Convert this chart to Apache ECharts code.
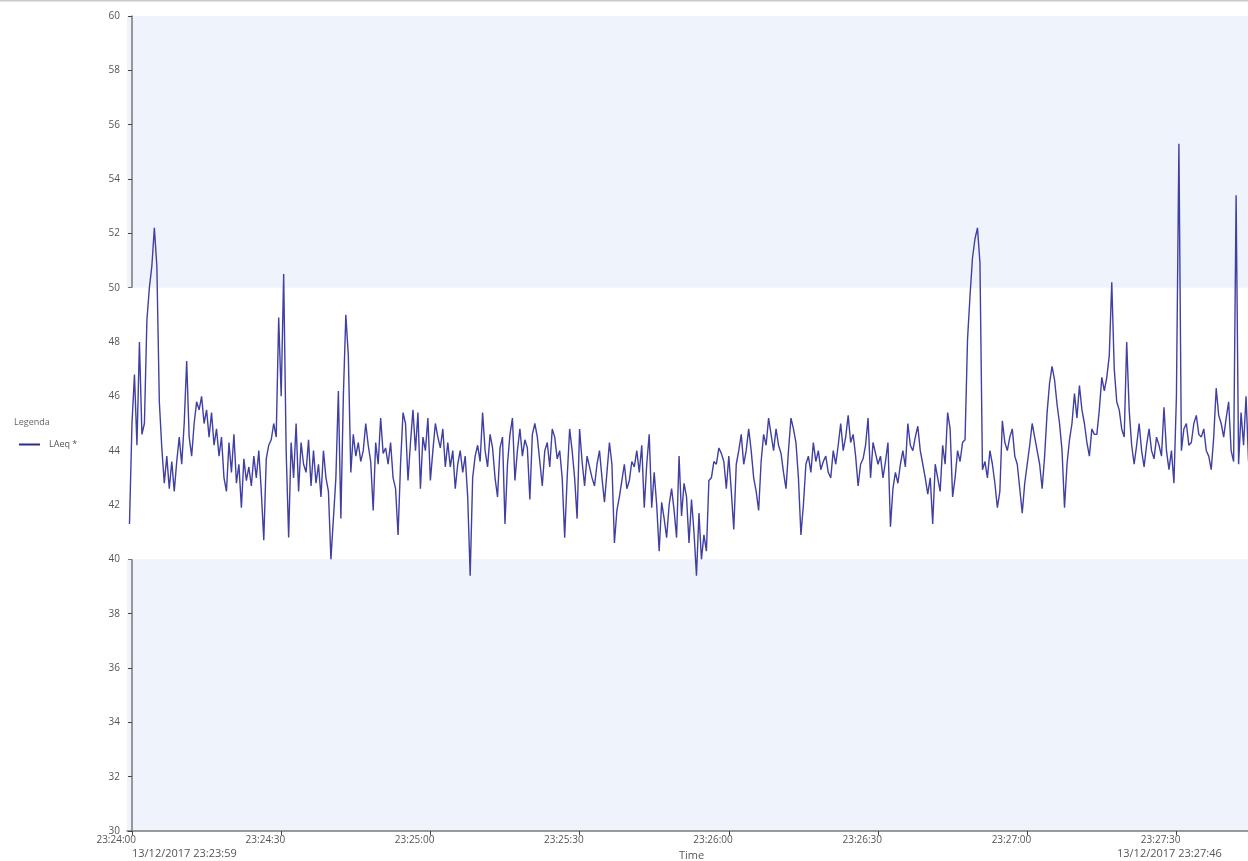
<!DOCTYPE html>
<html>
<head>
<meta charset="utf-8">
<script src="https://cdn.jsdelivr.net/npm/echarts@6/dist/echarts.min.js"></script>
<style>html,body{margin:0;padding:0;background:#fff}#c{width:1248px;height:861px}</style>
</head>
<body>
<div id="c"></div>
<script>
// LAeq samples every 0.5 s, first sample at 23:23:59.5 (seconds relative to 23:24:00)
const startSec = -0.5;
const stepSec = 0.5;
const laeq = [
41.3,45.0,46.8,44.2,48.0,44.6,45.0,48.8,50.0,50.8,
52.2,50.8,45.8,44.1,42.8,43.8,42.6,43.6,42.5,43.6,
44.5,43.5,45.0,47.3,44.5,43.8,45.0,45.8,45.5,46.0,
45.0,45.5,44.5,45.4,44.2,44.8,43.8,44.5,43.0,42.5,
44.3,43.2,44.6,42.8,43.5,41.9,43.7,42.9,43.4,42.7,
43.8,43.0,44.0,42.5,40.7,43.7,44.2,44.4,45.0,44.5,
48.9,46.0,50.5,44.0,40.8,44.3,43.0,45.0,42.5,44.3,
43.5,43.2,44.4,42.7,44.0,42.8,43.5,42.3,44.0,43.0,
42.5,40.0,41.5,43.0,46.2,41.5,46.0,49.0,47.5,43.2,
44.6,43.8,44.3,43.6,44.0,45.0,44.2,43.6,41.8,44.3,
43.5,45.2,43.9,44.1,43.5,44.3,43.0,42.6,40.9,43.5,
45.4,45.0,42.9,44.3,45.5,44.0,45.4,42.6,44.5,44.0,
45.2,42.9,44.0,45.0,44.5,44.1,44.8,43.4,44.3,43.4,
44.0,42.6,43.5,44.0,43.2,43.8,42.3,39.4,43.0,43.8,
44.2,43.6,45.4,44.0,43.4,44.6,44.1,43.0,42.3,44.1,
44.5,41.3,43.5,44.6,45.2,42.9,44.0,44.8,43.8,44.4,
44.1,42.2,44.6,45.0,44.5,43.6,42.7,44.0,44.3,43.4,
44.8,44.5,43.7,44.0,43.0,40.8,43.0,44.8,44.0,43.0,
41.5,44.8,43.6,42.7,43.8,43.4,43.0,42.7,43.5,44.0,
43.0,42.1,43.2,44.3,43.5,40.6,41.8,42.3,42.9,43.5,
42.6,42.9,43.6,43.4,44.0,43.2,44.2,41.9,43.5,44.6,
41.9,43.2,42.0,40.3,42.1,41.5,40.8,42.0,42.6,41.8,
40.8,43.8,41.6,42.8,42.3,40.6,42.2,41.0,39.4,41.7,
40.0,40.9,40.3,42.9,43.0,43.6,43.5,44.1,43.9,43.6,
42.6,43.8,42.5,41.1,43.5,44.0,44.6,43.5,44.0,44.8,
44.0,43.0,42.5,41.8,43.6,44.6,44.2,45.2,44.6,44.0,
44.8,44.2,43.9,43.2,42.6,44.0,45.2,44.8,44.3,43.0,
40.9,42.0,43.5,43.8,43.2,44.3,43.6,44.0,43.3,43.6,
43.8,43.2,43.0,44.0,43.5,44.2,45.0,44.0,44.5,45.3,
44.3,44.6,43.8,42.7,43.5,43.7,44.2,45.2,43.0,44.3,
43.9,43.5,43.8,43.0,43.6,44.3,41.2,42.6,43.2,42.8,
43.5,44.0,43.4,45.0,44.2,44.0,44.5,44.9,44.0,43.5,
43.0,42.4,43.0,41.3,43.5,43.0,42.5,44.2,43.5,45.4,
44.8,42.3,43.0,44.0,43.6,44.3,44.4,48.1,49.7,51.1,
51.8,52.2,50.9,43.3,43.6,43.0,44.0,43.5,42.8,41.9,
42.5,45.1,44.3,44.0,44.5,44.8,43.8,43.5,42.6,41.7,
42.8,43.5,44.2,45.0,44.5,44.0,43.5,42.6,43.8,45.4,
46.5,47.1,46.6,45.7,45.0,44.0,41.9,43.5,44.4,45.0,
46.1,45.2,46.4,45.5,45.0,44.3,43.8,44.8,44.6,44.6,
45.5,46.7,46.2,46.7,47.5,50.2,47.0,45.8,45.5,44.8,
44.5,48.0,45.5,44.2,43.5,44.2,45.0,44.0,43.4,44.2,
44.8,44.0,43.7,44.5,44.2,43.8,45.6,44.0,43.3,44.0,
42.8,46.0,55.3,44.0,44.8,45.0,44.2,44.3,45.0,45.3,
44.6,44.5,44.8,44.0,43.8,43.3,44.5,46.3,45.3,45.0,
44.5,45.2,45.8,44.0,43.6,53.4,43.5,45.4,44.2,46.0,
43.6
];
const seriesName = 'LAeq *';
const xTickSecs = [0, 30, 60, 90, 120, 150, 180, 210];
const baseClock = 23 * 3600 + 24 * 60; // 23:24:00
const xMin = -1;   // 23:23:59
const xMax = 226;  // 23:27:46
const startLabel = '13/12/2017 23:23:59';
const endLabel = '13/12/2017 23:27:46';
const yMin = 30, yMax = 60, yStep = 2;
const bandLow = 40, bandHigh = 50;

function clock(s) {
  const t = Math.round(baseClock + s);
  const h = Math.floor(t / 3600), m = Math.floor((t % 3600) / 60), sec = t % 60;
  const p = v => String(v).padStart(2, '0');
  return p(h) + ':' + p(m) + ':' + p(sec);
}

const points = laeq.map((v, i) => [startSec + i * stepSec, v]);

const chart = echarts.init(document.getElementById('c'), null, {renderer: 'canvas'});
chart.setOption({
  animation: false,
  backgroundColor: '#ffffff',
  title: {
    text: 'Legenda', left: 9, top: 413,
    textStyle: {fontSize: 9, fontWeight: 'normal', color: '#666', fontFamily: 'Open Sans'}
  },
  legend: {
    left: 14, top: 435, orient: 'vertical',
    icon: 'rect', itemWidth: 21, itemHeight: 2, itemGap: 6,
    textStyle: {fontSize: 9, color: '#555', fontFamily: 'Open Sans', padding: [0, 0, 0, 4]},
    data: [seriesName]
  },
  grid: {
    left: 127, top: 16, width: 1129, height: 815,
    outerBoundsMode: 'none', containLabel: false,
    show: true, backgroundColor: '#eff4fc', borderWidth: 0
  },
  xAxis: {
    type: 'value', min: xMin, max: xMax,
    name: 'Time', nameLocation: 'middle', nameGap: 18,
    nameTextStyle: {fontSize: 11, color: '#555', fontFamily: 'Open Sans'},
    axisLine: {show: true, lineStyle: {color: '#7a7a7a', width: 1.5}},
    axisTick: {show: true, length: 4, lineStyle: {color: '#444'}, customValues: xTickSecs},
    splitLine: {show: false},
    axisLabel: {
      customValues: xTickSecs, fontSize: 10, color: '#555', fontFamily: 'Open Sans',
      align: 'right', margin: 4, padding: [0, -4, 0, 0],
      formatter: v => clock(v)
    }
  },
  yAxis: {
    type: 'value', min: yMin, max: yMax, interval: yStep,
    axisLine: {show: true, lineStyle: {color: '#7a7a7a', width: 1.5}},
    axisTick: {show: true, length: 4, lineStyle: {color: '#444'}},
    splitLine: {show: false},
    axisLabel: {fontSize: 10, color: '#555', fontFamily: 'Open Sans', margin: 7}
  },
  graphic: [
    {type: 'rect', shape: {x: 0, y: 0, width: 1248, height: 1.5}, style: {fill: '#c8c8c8'}, silent: true},
    {type: 'text', left: 132, top: 848, style: {text: startLabel, fill: '#555', font: '11px "Open Sans"'}},
    {type: 'text', left: 1117, top: 848, style: {text: endLabel, fill: '#555', font: '11px "Open Sans"'}}
  ],
  series: [{
    name: seriesName, type: 'line', data: points,
    showSymbol: false, symbol: 'none',
    lineStyle: {color: '#3f3fa4', width: 1.4},
    itemStyle: {color: '#2b2b8c'},
    markArea: {
      silent: true,
      itemStyle: {color: '#ffffff'},
      data: [[{yAxis: bandLow}, {yAxis: bandHigh}]]
    }
  }]
});
</script>
</body>
</html>
